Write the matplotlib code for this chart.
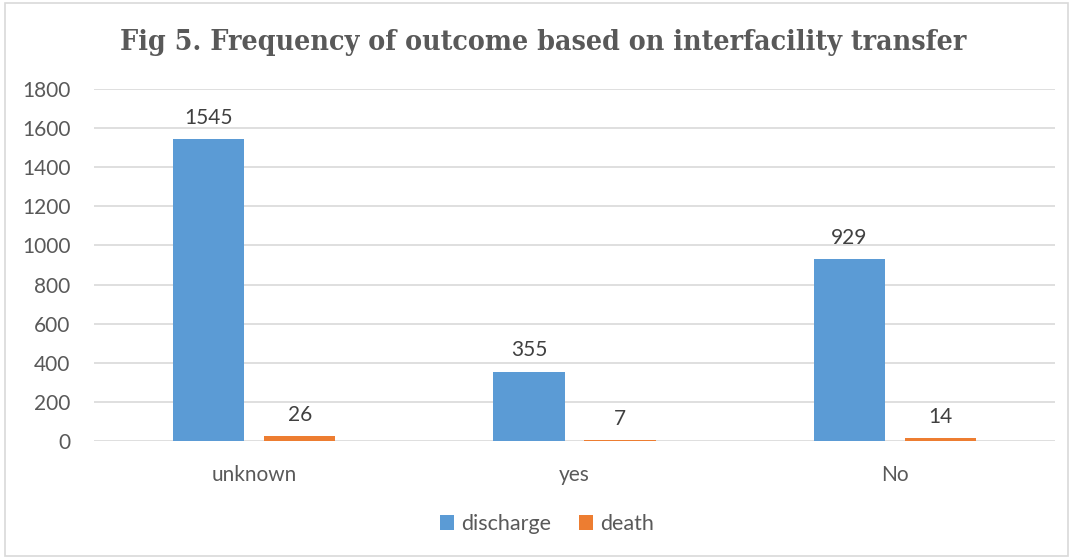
import matplotlib
matplotlib.use("Agg")
import matplotlib.pyplot as plt
import numpy as np
from matplotlib.patches import Rectangle

categories = ["unknown", "yes", "No"]
discharge = [1545, 355, 929]
death = [26, 7, 14]
yticks = [0, 200, 400, 600, 800, 1000, 1200, 1400, 1600, 1800]

blue = "#5b9bd5"
orange = "#ed7d31"
text_gray = "#595959"
grid_gray = "#d9d9d9"

plt.rcParams["font.family"] = ["Lato", "DejaVu Sans"]

fig = plt.figure(figsize=(10.72, 5.59), dpi=100)
ax = fig.add_axes([94 / 1072, 1 - 441 / 559, 961 / 1072, 352 / 559])

x = np.arange(len(categories))
w = 0.222
off = 0.142
b1 = ax.bar(x - off, discharge, w, color=blue, label="discharge", zorder=3)
b2 = ax.bar(x + off, death, w, color=orange, label="death", zorder=3)

for bars, vals in ((b1, discharge), (b2, death)):
    for r, v in zip(bars, vals):
        ax.annotate(str(v), (r.get_x() + r.get_width() / 2, v),
                    xytext=(0, 8), textcoords="offset points",
                    ha="center", va="bottom", fontsize=15, color="#404040")

ax.set_xlim(-0.5, 2.5)
ax.set_ylim(0, 1800)
ax.set_yticks(yticks)
ax.set_xticks(x)
ax.set_xticklabels(categories)
ax.tick_params(axis="both", length=0, labelsize=15, colors=text_gray)
ax.tick_params(axis="y", pad=17)
ax.tick_params(axis="x", pad=17)
ax.grid(axis="y", color=grid_gray, linewidth=1.2, zorder=0)
for s in ax.spines.values():
    s.set_visible(False)

fig.text(543 / 1072, 1 - 42 / 559, "Fig 5. Frequency of outcome based on interfacility transfer",
         ha="center", va="center", fontsize=20.4, fontweight="bold", fontstretch="condensed",
         color=text_gray, family=["DejaVu Serif"])

leg = fig.legend(handles=[b1, b2], loc="center", bbox_to_anchor=(547 / 1072, 1 - 524 / 559),
                 ncol=2, frameon=False, fontsize=15.5, handlelength=0.65, handleheight=0.65,
                 columnspacing=1.3, handletextpad=0.35)
for t in leg.get_texts():
    t.set_color(text_gray)

fig.patches.append(Rectangle((5 / 1072, 3 / 559), 1063 / 1072, 553 / 559,
                             transform=fig.transFigure, fill=False,
                             edgecolor=grid_gray, linewidth=1.2))

fig.savefig("out.png", dpi=100, facecolor="white")
